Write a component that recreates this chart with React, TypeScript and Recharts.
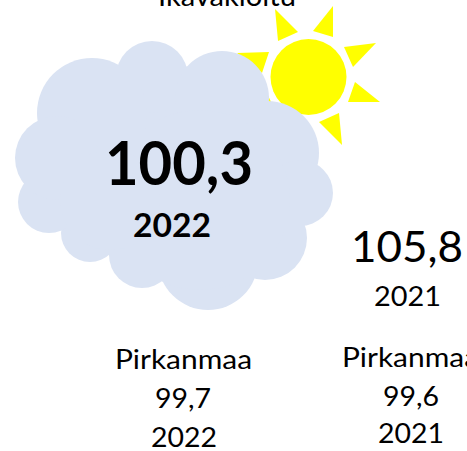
import React from "react";
import { ScatterChart, Scatter, XAxis, YAxis } from "recharts";

// the numbers on the slide
const values = [100.3, 105.8, 99.7, 99.6];
const years = [2022, 2021, 2022, 2021];
const regionName = "Pirkanmaa";
const titleText = "Ikävakioitu";

const fmt = (v: number) => v.toFixed(1).replace(".", ",");

// text placed on the 467x451 canvas: x, baseline y, size, width
const textRows = [
  { x: 158, y: 6, size: 29, w: 138, weight: 400, text: titleText },
  { x: 105, y: 185, size: 62, w: 148, weight: 700, text: fmt(values[0]) },
  { x: 133, y: 237, size: 33, w: 78, weight: 700, text: String(years[0]) },
  { x: 351, y: 262, size: 43, w: 112, weight: 400, text: fmt(values[1]) },
  { x: 374, y: 306, size: 27, w: 67, weight: 400, text: String(years[1]) },
  { x: 115, y: 369, size: 27, w: 137, weight: 400, text: regionName },
  { x: 155, y: 408, size: 27, w: 56, weight: 400, text: fmt(values[2]) },
  { x: 151, y: 447, size: 27, w: 66, weight: 400, text: String(years[2]) },
  { x: 342, y: 367, size: 27, w: 137, weight: 400, text: regionName },
  { x: 383, y: 406, size: 27, w: 56, weight: 400, text: fmt(values[3]) },
  { x: 378, y: 443, size: 27, w: 66, weight: 400, text: String(years[3]) },
];

// cloud lobes
const cloudLobes = [
  { x: 170, y: 170, r: 105 },
  { x: 152, y: 77, r: 36 },
  { x: 92, y: 113, r: 55 },
  { x: 222, y: 98, r: 47 },
  { x: 267, y: 153, r: 52 },
  { x: 300, y: 193, r: 33 },
  { x: 265, y: 238, r: 42 },
  { x: 208, y: 260, r: 50 },
  { x: 142, y: 255, r: 33 },
  { x: 90, y: 233, r: 29 },
  { x: 49, y: 202, r: 31 },
  { x: 57, y: 158, r: 42 },
  { x: 200, y: 200, r: 90 },
  { x: 110, y: 200, r: 50 },
];

const sunDisc = [{ x: 308.5, y: 77, r: 38 }];

// sun rays, first vertex is the point, the rest relative to it
const sunRays = [
  { x: 275, y: 9, pts: [[23, 23], [3, 32]] },
  { x: 333, y: 6, pts: [[0, 31], [-20, 25]] },
  { x: 376, y: 43, pts: [[-23, 24], [-32, 4]] },
  { x: 380, y: 102, pts: [[-32, 0], [-25, -20]] },
  { x: 342, y: 145, pts: [[-23, -23], [-3, -32]] },
  { x: 237, y: 53, pts: [[32, -1], [25, 20]] },
  { x: 240, y: 111, pts: [[25, -22], [32, -7]] },
];

const FONT = "Lato";

const Disc = (fill: string) => (p: any) => (
  <circle cx={p.cx} cy={p.cy} r={p.payload.r} fill={fill} />
);

const Ray = (p: any) => {
  const pts = [[0, 0], ...p.payload.pts]
    .map(([dx, dy]: number[]) => `${p.cx + dx},${p.cy + dy}`)
    .join(" ");
  return <polygon points={pts} fill="#ffff00" />;
};

const Label = (p: any) => {
  const t = p.payload;
  return (
    <text
      x={p.cx}
      y={p.cy}
      fontFamily={FONT}
      fontSize={t.size}
      fontWeight={t.weight}
      fill="#000000"
      textLength={t.w}
      lengthAdjust="spacingAndGlyphs"
    >
      {t.text}
    </text>
  );
};

export default function App() {
  return (
    <div style={{ position: "absolute", left: 0, top: 0 }}>
      <ScatterChart
        width={467}
        height={451}
        margin={{ top: 0, right: 0, bottom: 0, left: 0 }}
      >
        <XAxis type="number" dataKey="x" domain={[0, 467]} hide />
        <YAxis type="number" dataKey="y" domain={[0, 451]} reversed hide />
        <Scatter data={sunRays} shape={Ray} isAnimationActive={false} />
        <Scatter data={sunDisc} shape={Disc("#ffff00")} isAnimationActive={false} />
        <Scatter data={cloudLobes} shape={Disc("#dae3f3")} isAnimationActive={false} />
        <Scatter data={textRows} shape={Label} isAnimationActive={false} />
      </ScatterChart>
    </div>
  );
}
